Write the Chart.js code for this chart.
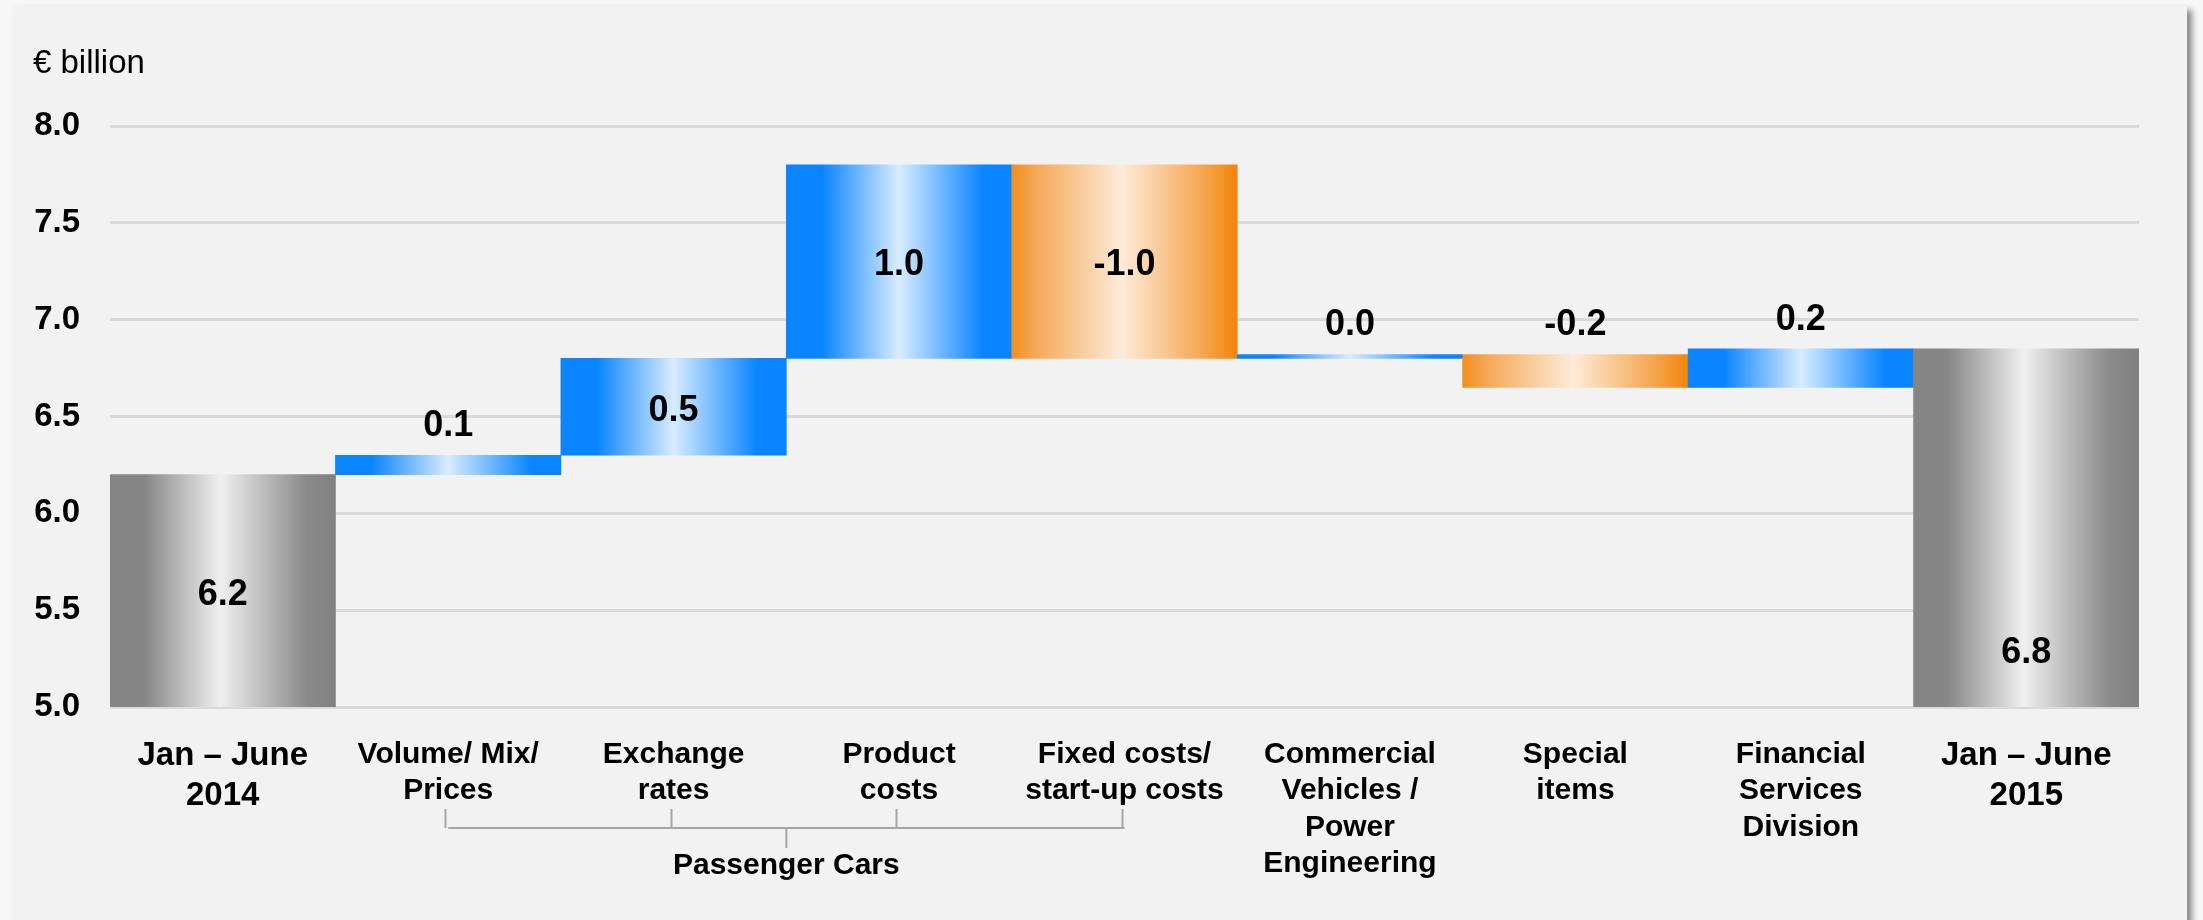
<!DOCTYPE html>
<html><head><meta charset="utf-8">
<script src="https://cdn.jsdelivr.net/npm/chart.js@4.4.1/dist/chart.umd.min.js"></script>
<style>
html,body{margin:0;padding:0;background:#f7f7f7;width:2203px;height:920px;overflow:hidden}
#panel{position:absolute;left:13px;top:5px;width:2174px;height:960px;background:#f2f2f2;box-shadow:5px 5px 6px rgba(0,0,0,0.45)}
canvas{position:absolute;left:0;top:0}
</style></head><body>
<div id="panel"></div>
<canvas id="c" width="2203" height="920"></canvas>
<script>
// ---- data ----
const categories = [
  ['Jan \u2013 June', '2014'],
  ['Volume/ Mix/', 'Prices'],
  ['Exchange', 'rates'],
  ['Product', 'costs'],
  ['Fixed costs/', 'start-up costs'],
  ['Commercial', 'Vehicles /', 'Power', 'Engineering'],
  ['Special', 'items'],
  ['Financial', 'Services', 'Division'],
  ['Jan \u2013 June', '2015']
];
const startValue = 6.2;
const changes = [0.10, 0.50, 1.00, -1.00, 0.02, -0.17, 0.20];
const endValue = 6.85;
const valueLabels = ['6.2', '0.1', '0.5', '1.0', '-1.0', '0.0', '-0.2', '0.2', '6.8'];
const yTickValues = [5.0, 5.5, 6.0, 6.5, 7.0, 7.5, 8.0];
const groupLabel = 'Passenger Cars';
const groupFirst = 1, groupLast = 4;
const unitLabel = '\u20ac billion';

// ---- build floating ranges from the values ----
const yMin = yTickValues[0], yMax = yTickValues[yTickValues.length - 1];
const ranges = [[yMin, startValue]];
const kinds = ['total'];
let run = startValue;
changes.forEach(d => {
  ranges.push([run, run + d]);
  kinds.push(d >= 0 ? 'up' : 'down');
  run += d;
});
ranges.push([yMin, endValue]);
kinds.push('total');

const FONT = "'Liberation Sans', Arial, Helvetica, sans-serif";

const stops = {
  up:    [[0, '#0a85ff'], [0.16, '#0a85ff'], [0.5, '#d8ecff'], [0.87, '#0a85ff'], [1, '#0a85ff']],
  down:  [[0, '#f28e1e'], [0.12, '#f6ab5c'], [0.49, '#fdebd9'], [0.85, '#f5a64f'], [1, '#f2840a']],
  total: [[0, '#858585'], [0.15, '#868686'], [0.49, '#f0f0f0'], [0.53, '#e4e4e4'], [0.87, '#8a8a8a'], [1, '#808080']]
};

function barFill(c) {
  const chart = c.chart;
  const kind = kinds[c.dataIndex];
  const xs = chart.scales.x;
  if (!chart.chartArea || !xs) return stops[kind][0][1];
  const w = xs.width / categories.length;
  const cx = xs.getPixelForValue(c.dataIndex);
  const g = chart.ctx.createLinearGradient(cx - w / 2, 0, cx + w / 2, 0);
  stops[kind].forEach(s => g.addColorStop(s[0], s[1]));
  return g;
}

const decorPlugin = {
  id: 'decor',
  afterDatasetsDraw(chart, args, opts) {
    const ctx = chart.ctx;
    const meta = chart.getDatasetMeta(0);
    ctx.save();
    ctx.fillStyle = '#000';
    ctx.textAlign = 'center';
    ctx.textBaseline = 'middle';
    ctx.font = 'bold 36px ' + FONT;
    meta.data.forEach((bar, i) => {
      const p = bar.getProps(['x', 'y', 'base'], true);
      const top = Math.min(p.y, p.base), bottom = Math.max(p.y, p.base);
      let y = (bottom - top) > 60 ? (top + bottom) / 2 + 4 : top - 29;
      y += (opts.shift[i] || 0);
      ctx.fillText(valueLabels[i], p.x, y);
    });
    // unit label
    ctx.textAlign = 'left';
    ctx.textBaseline = 'alphabetic';
    ctx.font = '33px ' + FONT;
    ctx.fillText(unitLabel, 33, 73);
    // group bracket
    const xs = chart.scales.x;
    const b = chart.chartArea.bottom;
    const yTop = b + 102, yLine = b + 121, yStem = b + 141;
    const x1 = xs.getPixelForValue(groupFirst), x2 = xs.getPixelForValue(groupLast);
    ctx.strokeStyle = '#a6a6a6';
    ctx.lineWidth = 2;
    ctx.beginPath();
    ctx.moveTo(x1, yLine); ctx.lineTo(x2, yLine);
    for (let i = groupFirst; i <= groupLast; i++) {
      const x = Math.round(xs.getPixelForValue(i) - 3) + 0.5;
      ctx.moveTo(x, yTop); ctx.lineTo(x, yLine);
    }
    const xm = (x1 + x2) / 2;
    ctx.moveTo(xm, yLine); ctx.lineTo(xm, yStem);
    ctx.stroke();
    ctx.textAlign = 'center';
    ctx.textBaseline = 'middle';
    ctx.font = 'bold 30px ' + FONT;
    ctx.fillText(groupLabel, xm, b + 159);
    ctx.restore();
  }
};

new Chart(document.getElementById('c'), {
  type: 'bar',
  data: {
    labels: categories,
    datasets: [{
      data: ranges,
      backgroundColor: barFill,
      borderWidth: 0,
      borderSkipped: false,
      barPercentage: 1.0,
      categoryPercentage: 1.0
    }]
  },
  options: {
    responsive: false,
    devicePixelRatio: 1,
    animation: false,
    layout: { padding: { left: 0, right: 64, top: 126, bottom: 0 } },
    plugins: {
      legend: { display: false },
      tooltip: { enabled: false },
      title: { display: false },
      decor: { shift: { 8: 121 } }
    },
    scales: {
      x: {
        grid: { display: false },
        border: { display: false },
        ticks: {
          color: '#000',
          autoSkip: false,
          maxRotation: 0,
          minRotation: 0,
          padding: 21,
          font: (c) => {
            const end = c.index === 0 || c.index === categories.length - 1;
            return { family: FONT, weight: 'bold', size: end ? 33 : 30, lineHeight: end ? 1.22 : 1.22 };
          }
        },
        afterFit(s) { s.height = 213; }
      },
      y: {
        min: yMin,
        max: yMax,
        afterBuildTicks(s) { s.ticks = yTickValues.map(v => ({ value: v })); },
        grid: { color: '#d9d9d9', lineWidth: 3, drawTicks: false },
        border: { display: false },
        ticks: {
          color: '#000',
          padding: 30,
          font: { family: FONT, weight: 'bold', size: 33 },
          callback: (v) => Number(v).toFixed(1)
        },
        afterFit(s) { s.width = 110; }
      }
    }
  },
  plugins: [decorPlugin]
});
</script>
</body></html>
